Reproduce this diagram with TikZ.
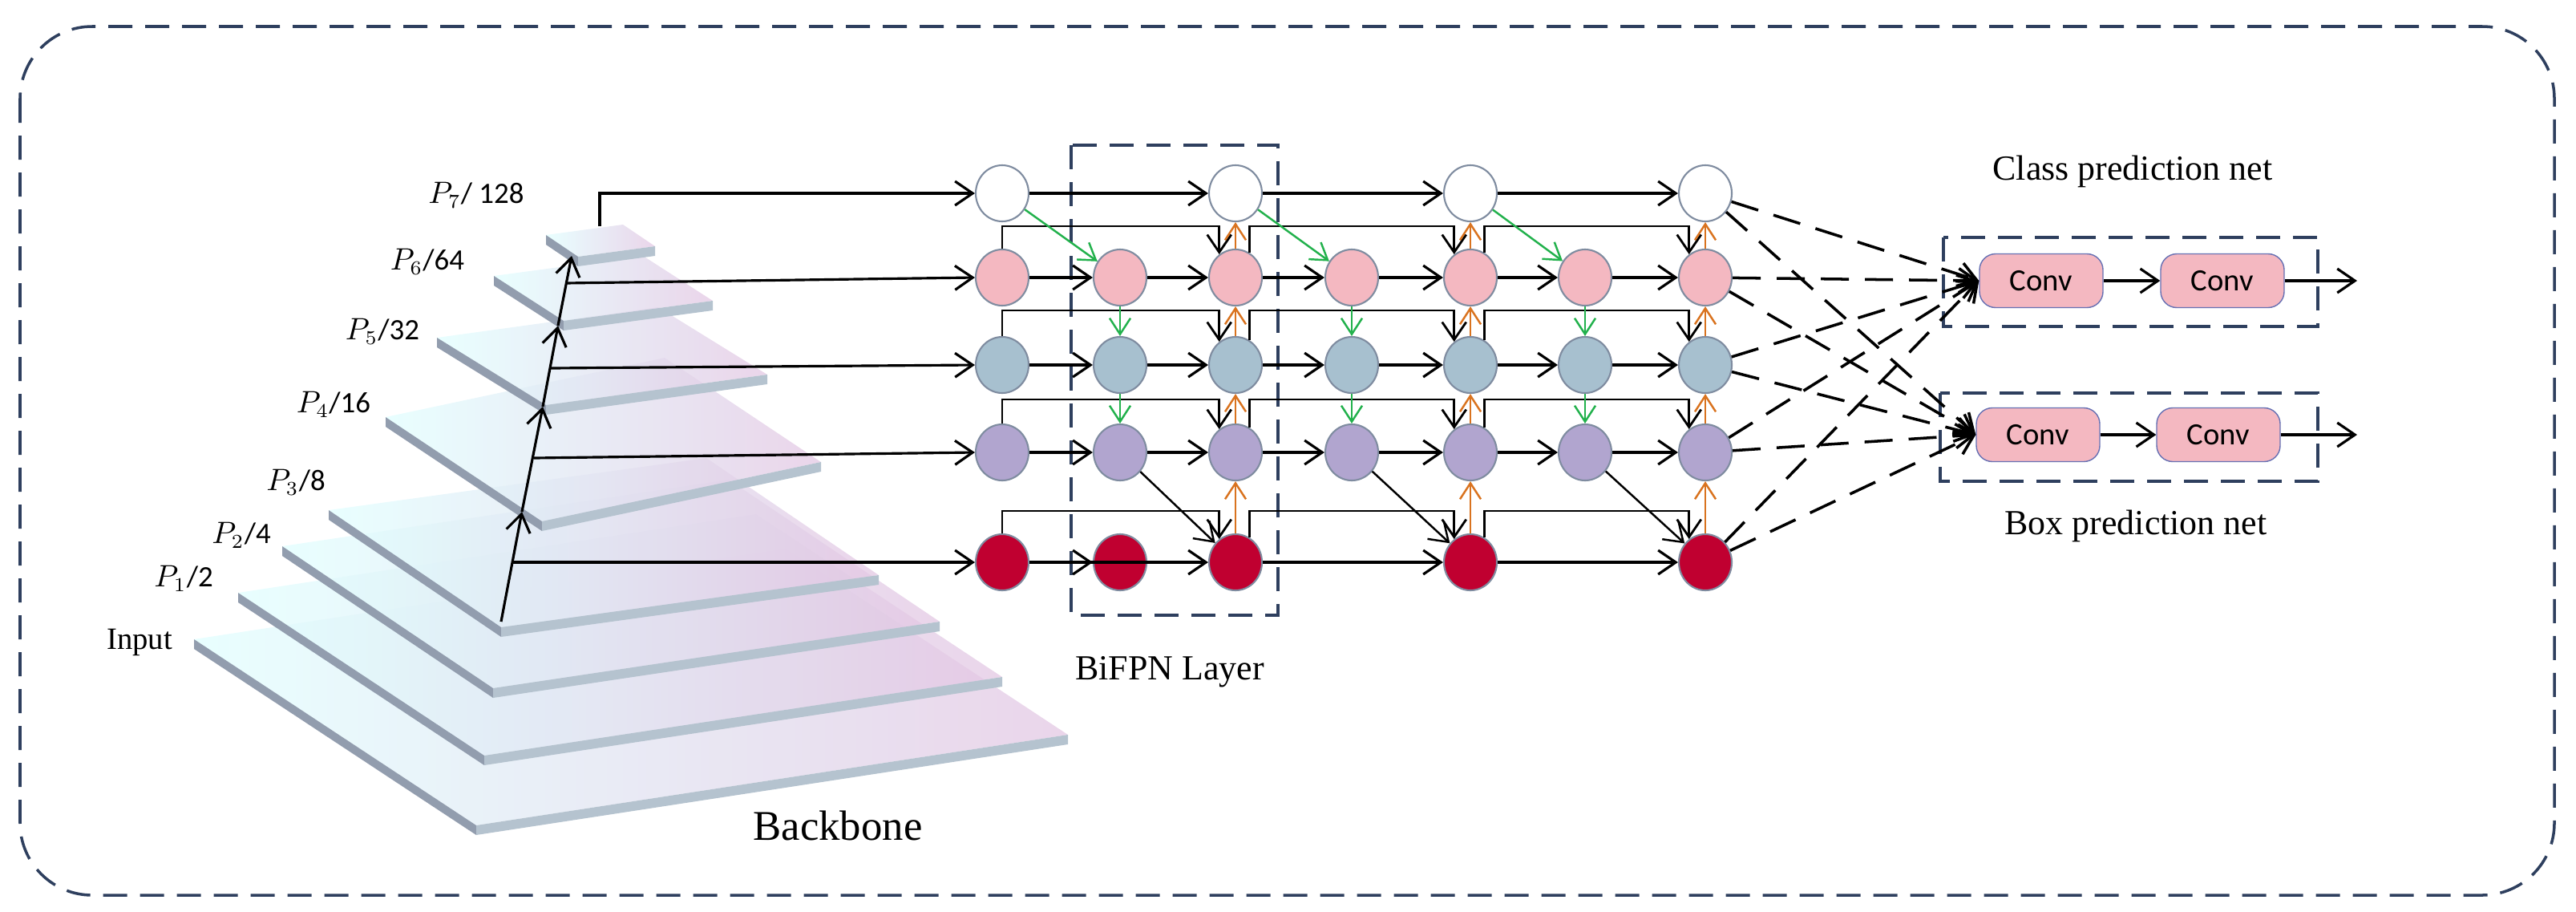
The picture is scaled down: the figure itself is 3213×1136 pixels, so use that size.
\documentclass[tikz,border=0pt]{standalone}
\usepackage{fontspec}
\setmainfont{Liberation Serif}
\newfontfamily\calfont{Carlito}
\usetikzlibrary{arrows.meta,calc,shapes.geometric}
\definecolor{cpink}{HTML}{F4B8C1}
\definecolor{cblue}{HTML}{A7C0CF}
\definecolor{cpurp}{HTML}{B1A5CF}
\definecolor{cred}{HTML}{C00030}
\definecolor{cedge}{HTML}{7F8CA0}
\definecolor{corange}{HTML}{D9731F}
\definecolor{cgreen}{HTML}{22B14C}
\definecolor{cdash}{HTML}{2E3F5E}
\tikzset{
  nd/.style={ellipse,draw=cedge,line width=0.6pt,minimum width=6.6mm,minimum height=7mm,inner sep=0pt},
  arr/.style={-{Straight Barb[length=2.2mm,width=3mm]},line width=0.9pt,black},
  garr/.style={-{Straight Barb[length=2mm,width=2.6mm]},line width=0.7pt,cgreen},
  oarr/.style={-{Straight Barb[length=2mm,width=2.6mm]},line width=0.7pt,corange},
  darr/.style={-{Straight Barb[length=2.2mm,width=3mm]},line width=1pt,dash pattern=on 3.5mm off 2mm},
  box/.style={draw=cdash,line width=1pt,dash pattern=on 3mm off 1.6mm},
  conv/.style={draw=cedge!80!blue,fill=cpink,rounded corners=2mm,minimum width=15.4mm,minimum height=6.7mm,font=\calfont\fontsize{11}{12}\selectfont},
  plab/.style={font=\calfont\fontsize{10.5}{12}\selectfont},
}
\begin{document}
\begin{tikzpicture}[x=0.1mm,y=-0.1mm]
\useasboundingbox (0,0) rectangle (3213,1136);
\draw[box,rounded corners=9mm] (25,33) rectangle (3186,1116);
% backbone layers: left, front, right
\def\layer#1#2#3#4#5#6{%
  \shade[left color=cyan!12,right color=violet!22,opacity=0.75] (#1,#2) -- (#3,#4) -- (#5,#6) -- ($(#1,#2)+(#5,#6)-(#3,#4)$) -- cycle;
  \fill[cedge!85] (#1,#2) -- (#3,#4) -- (#3,#4+12) -- (#1,#2+12) -- cycle;
  \fill[cedge!45!cblue!70] (#3,#4) -- (#5,#6) -- (#5,#6+12) -- (#3,#4+12) -- cycle;}
\layer{242}{797}{594}{1029}{1332}{916}
\layer{297}{739}{604}{942}{1250}{844}
\layer{352}{681}{615}{858}{1172}{775}
\layer{410}{636}{625}{782}{1096}{717}
\layer{481}{520}{676}{650}{1024}{576}
\layer{545}{421}{681}{505}{957}{467}
\layer{616}{344}{703}{400}{889}{375}
\layer{681}{293}{721}{320}{817}{307}
% labels
\node[plab] (l7) at (594,243) {$P_7$/ 128};
\node[plab] (l6) at (533,326) {$P_6$/64};
\node[plab] (l5) at (477,413) {$P_5$/32};
\node[plab] (l4) at (416,504) {$P_4$/16};
\node[plab] (l3) at (369,601) {$P_3$/8};
\node[plab] (l2) at (301,667) {$P_2$/4};
\node[plab] (l1) at (229,721) {$P_1$/2};
\node[font=\fontsize{11}{12}\selectfont] (lin) at (174,801) {Input};
\node[font=\fontsize{15}{16}\selectfont] (lbb) at (1045,1029) {Backbone};
\node[font=\fontsize{12.5}{14}\selectfont] (lbi) at (1459,838) {BiFPN Layer};
\node[font=\fontsize{12.5}{14}\selectfont] (lcp) at (2660,214) {Class prediction net};
\node[font=\fontsize{12.5}{14}\selectfont] (lbp) at (2664,656) {Box prediction net};
% grid nodes
\foreach \c/\x in {0/1250,1/1397,2/1541,3/1686,4/1834,5/1977,6/2127}{
  \node[nd,fill=cpink] (n\c1) at (\x,346) {};
  \node[nd,fill=cblue] (n\c2) at (\x,455) {};
  \node[nd,fill=cpurp] (n\c3) at (\x,564) {};
}
\foreach \c/\x in {0/1250,2/1541,4/1834,6/2127}{
  \node[nd,fill=white] (n\c0) at (\x,241) {};
  \node[nd,fill=cred] (n\c4) at (\x,701) {};
}
\node[nd,fill=cred] (n14) at (1397,701) {};
% BiFPN box
\draw[box] (1336,181) rectangle (1594,767);
% backbone spine
\coordinate (s0) at (625,775);
\coordinate (s1) at (651,638);
\coordinate (s2) at (677,507);
\coordinate (s3) at (696,406);
\coordinate (s4) at (713,319);
\coordinate (b3) at (639,701);
\coordinate (b4) at (666,571);
\coordinate (b5) at (687,459);
\coordinate (b6) at (705,353);
\coordinate (b7) at (748,282);
\draw[arr] (s0) -- (s1);
\draw[arr] (s1) -- (s2);
\draw[arr] (s2) -- (s3);
\draw[arr] (s3) -- (s4);
\draw[arr] (b3) -- (n04);
\draw[arr] (b4) -- (n03.west);
\draw[arr] (b5) -- (n02.west);
\draw[arr] (b6) -- (n01.west);
\draw[arr] (b7) |- (n00);
% horizontal
\foreach \a/\b in {0/2,2/4,4/6}{\draw[arr] (n\a0) -- (n\b0); \draw[arr] (n\a4) -- (n\b4) ;}
\draw[arr] (n04) -- (n14);
\foreach \r in {1,2,3}{\foreach \a/\b in {0/1,1/2,2/3,3/4,4/5,5/6}{\draw[arr] (n\a\r) -- (n\b\r);}}
% skip connections
\foreach \r/\y in {1/282,2/387,3/498,4/637}{
  \draw[arr,line width=0.8pt] (n0\r.north) |- (1400,\y) -| (n2\r.125);
  \draw[arr,line width=0.8pt] (n2\r.60) |- (1700,\y) -| (n4\r.125);
  \draw[arr,line width=0.8pt] (n4\r.60) |- (2000,\y) -| (n6\r.125);
}
% green top-down
\foreach \a/\b in {0/1,2/3,4/5}{
  \draw[garr] (n\a0) -- (n\b1);
  \draw[garr] (n\b1) -- (n\b2);
  \draw[garr] (n\b2) -- (n\b3);
}
% diagonal
\foreach \a/\b in {1/2,3/4,5/6}{\draw[arr,line width=0.7pt] (n\a3) -- (n\b4);}
% orange bottom-up
\foreach \c in {2,4,6}{
  \draw[oarr] (n\c4) -- (n\c3);
  \draw[oarr] (n\c3) -- (n\c2);
  \draw[oarr] (n\c2) -- (n\c1);
  \draw[oarr] (n\c1) -- (n\c0);
}
% heads
\draw[box] (2424,296) rectangle (2891,407);
\draw[box] (2420,490) rectangle (2891,600);
\node[conv] (c1) at (2546,350) {Conv};
\node[conv] (c2) at (2772,350) {Conv};
\node[conv] (c3) at (2542,542) {Conv};
\node[conv] (c4) at (2767,542) {Conv};
\coordinate (o1) at (2940,350);
\coordinate (o2) at (2940,542);
\draw[arr] (c1) -- (c2);
\draw[arr] (c3) -- (c4);
\draw[arr] (c2) -- (o1);
\draw[arr] (c4) -- (o2);
\foreach \r in {0,...,4}{
  \draw[darr] (n6\r) -- (c1.west);
  \draw[darr] (n6\r) -- (c3.west);
}
\end{tikzpicture}
\end{document}
